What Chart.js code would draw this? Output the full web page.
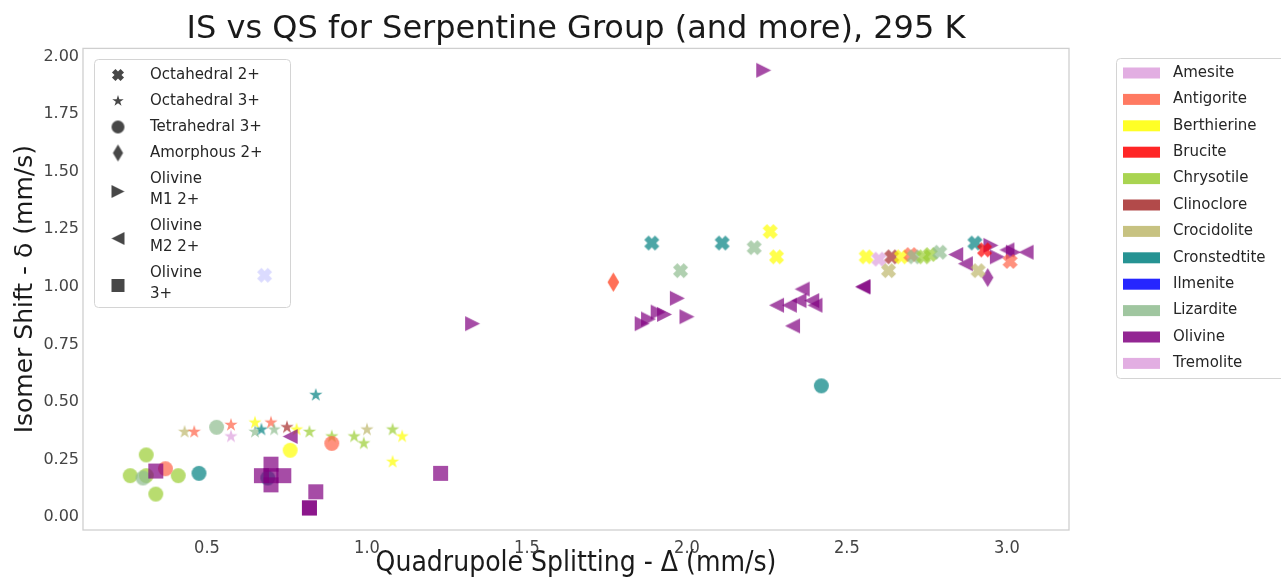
<!DOCTYPE html>
<html>
<head>
<meta charset="utf-8">
<title>IS vs QS for Serpentine Group (and more), 295 K</title>
<script src="https://cdn.jsdelivr.net/npm/chart.js@4/dist/chart.umd.min.js"></script>
<style>
  html, body { margin: 0; padding: 0; background: #ffffff; }
  canvas { display: block; }
</style>
</head>
<body>
<canvas id="chart" width="1281" height="579"></canvas>
<script>
// ---- minerals (colour key) ----
const minerals = ['Amesite', 'Antigorite', 'Berthierine', 'Brucite', 'Chrysotile', 'Clinoclore',
  'Crocidolite', 'Cronstedtite', 'Ilmenite', 'Lizardite', 'Olivine', 'Tremolite'];
const mineralColors = ['#DDA0DD', '#FF6347', '#FFFF00', '#FF0000', '#9ACD32', '#A52A2A',
  '#BDB76B', '#008080', '#0000FF', '#8FBC8F', '#800080', '#DDA0DD'];

// ---- site types (marker key) ----
const siteLabels = ['Octahedral 2+', 'Octahedral 3+', 'Tetrahedral 3+', 'Amorphous 2+',
  'Olivine\nM1 2+', 'Olivine\nM2 2+', 'Olivine\n3+'];
const siteShapes = ['xFilled', 'star', 'circle', 'thinDiamond', 'triangleRight', 'triangleLeft', 'square'];
// stacking of the site layers: 0 is painted last (on top)
const siteLayer = [0, 6, 5, 1, 2, 3, 4];

// ---- measurements: [mineral, quadrupole splitting, isomer shift] ----
const octahedral2Plus = [
  ['Ilmenite', 0.68, 1.05],
  ['Cronstedtite', 1.89, 1.19], ['Cronstedtite', 2.11, 1.19],
  ['Lizardite', 1.98, 1.07], ['Lizardite', 2.21, 1.17],
  ['Berthierine', 2.26, 1.24], ['Berthierine', 2.28, 1.13],
  ['Berthierine', 2.56, 1.13], ['Amesite', 2.60, 1.12],
  ['Crocidolite', 2.63, 1.07], ['Clinoclore', 2.64, 1.13],
  ['Berthierine', 2.67, 1.13], ['Antigorite', 2.70, 1.14],
  ['Lizardite', 2.71, 1.13], ['Chrysotile', 2.74, 1.13],
  ['Chrysotile', 2.76, 1.14], ['Lizardite', 2.79, 1.15],
  ['Cronstedtite', 2.90, 1.19], ['Crocidolite', 2.91, 1.07],
  ['Brucite', 2.93, 1.16], ['Antigorite', 3.01, 1.11]
];
const octahedral3Plus = [
  ['Crocidolite', 0.43, 0.37], ['Antigorite', 0.46, 0.37],
  ['Antigorite', 0.575, 0.40], ['Tremolite', 0.575, 0.35],
  ['Berthierine', 0.65, 0.41], ['Lizardite', 0.65, 0.37],
  ['Cronstedtite', 0.67, 0.38], ['Antigorite', 0.70, 0.41],
  ['Lizardite', 0.71, 0.38], ['Clinoclore', 0.75, 0.39],
  ['Berthierine', 0.78, 0.38], ['Chrysotile', 0.82, 0.37],
  ['Chrysotile', 0.89, 0.35], ['Cronstedtite', 0.84, 0.53],
  ['Chrysotile', 0.96, 0.35], ['Crocidolite', 1.00, 0.38],
  ['Chrysotile', 0.99, 0.32], ['Chrysotile', 1.08, 0.38],
  ['Berthierine', 1.11, 0.35], ['Berthierine', 1.08, 0.24]
];
const tetrahedral3Plus = [
  ['Chrysotile', 0.31, 0.27], ['Chrysotile', 0.26, 0.18],
  ['Chrysotile', 0.31, 0.18], ['Lizardite', 0.30, 0.17],
  ['Chrysotile', 0.41, 0.18], ['Chrysotile', 0.34, 0.10],
  ['Antigorite', 0.37, 0.21], ['Cronstedtite', 0.475, 0.19],
  ['Cronstedtite', 0.69, 0.17], ['Lizardite', 0.53, 0.39],
  ['Berthierine', 0.76, 0.29], ['Antigorite', 0.89, 0.32],
  ['Cronstedtite', 2.42, 0.57]
];
const amorphous2Plus = [
  ['Antigorite', 1.77, 1.02], ['Antigorite', 1.77, 1.02],
  ['Olivine', 2.94, 1.04]
];
const olivineM1 = [
  ['Olivine', 1.33, 0.84], ['Olivine', 1.86, 0.84], ['Olivine', 1.88, 0.86],
  ['Olivine', 1.91, 0.89], ['Olivine', 1.93, 0.88], ['Olivine', 1.97, 0.95],
  ['Olivine', 2.00, 0.87], ['Olivine', 2.24, 1.94], ['Olivine', 2.95, 1.18],
  ['Olivine', 2.97, 1.13], ['Olivine', 3.02, 1.15]
];
const olivineM2 = [
  ['Olivine', 0.76, 0.35], ['Olivine', 2.28, 0.92], ['Olivine', 2.32, 0.92],
  ['Olivine', 2.35, 0.94], ['Olivine', 2.36, 0.99], ['Olivine', 2.39, 0.94],
  ['Olivine', 2.40, 0.92], ['Olivine', 2.33, 0.83], ['Olivine', 2.55, 1.00],
  ['Olivine', 2.55, 1.00], ['Olivine', 2.84, 1.14], ['Olivine', 2.87, 1.10],
  ['Olivine', 3.00, 1.16], ['Olivine', 3.06, 1.15]
];
const olivine3Plus = [
  ['Olivine', 0.34, 0.20], ['Olivine', 0.70, 0.23], ['Olivine', 0.67, 0.18],
  ['Olivine', 0.74, 0.18], ['Olivine', 0.70, 0.14], ['Olivine', 0.70, 0.18],
  ['Olivine', 0.84, 0.11], ['Olivine', 0.82, 0.04], ['Olivine', 0.82, 0.04],
  ['Olivine', 1.23, 0.19]
];
const siteData = [octahedral2Plus, octahedral3Plus, tetrahedral3Plus, amorphous2Plus,
  olivineM1, olivineM2, olivine3Plus];

// ---- axes ----
const xTickValues = [0.5, 1.0, 1.5, 2.0, 2.5, 3.0];
const yTickValues = [0, 0.25, 0.5, 0.75, 1.0, 1.25, 1.5, 1.75, 2.0];

// ---- marker drawing ----
const FONT = '"DejaVu Sans", "Liberation Sans", sans-serif';
const NARROW = '"DejaVu Sans Condensed", "DejaVu Sans", sans-serif';
const markerSize = { xFilled: 15, star: 14, circle: 15, thinDiamond: 19, triangleRight: 15, triangleLeft: 15, square: 15 };
const legendMarkerSize = { xFilled: 12, star: 12, circle: 13, thinDiamond: 17, triangleRight: 13, triangleLeft: 13, square: 13 };

function tracePath(g, shape, r) {
  g.beginPath();
  if (shape === 'circle') {
    g.arc(0, 0, r, 0, Math.PI * 2);
  } else if (shape === 'square') {
    g.rect(-r, -r, 2 * r, 2 * r);
  } else if (shape === 'triangleRight') {
    g.moveTo(r, 0); g.lineTo(-r, -r); g.lineTo(-r, r); g.closePath();
  } else if (shape === 'triangleLeft') {
    g.moveTo(-r, 0); g.lineTo(r, -r); g.lineTo(r, r); g.closePath();
  } else if (shape === 'thinDiamond') {
    g.moveTo(0, -r); g.lineTo(0.6 * r, 0); g.lineTo(0, r); g.lineTo(-0.6 * r, 0); g.closePath();
  } else if (shape === 'star') {
    for (let k = 0; k < 10; k++) {
      const rad = k % 2 === 0 ? r : r * 0.382;
      const ang = -Math.PI / 2 + k * Math.PI / 5;
      const px = rad * Math.cos(ang), py = rad * Math.sin(ang);
      if (k === 0) g.moveTo(px, py); else g.lineTo(px, py);
    }
    g.closePath();
  } else if (shape === 'xFilled') {
    // a plus sign turned by 45 degrees
    const b = r * 1.01, a = r * 0.41;
    const pts = [[a, b], [a, a], [b, a], [b, -a], [a, -a], [a, -b], [-a, -b], [-a, -a], [-b, -a], [-b, a], [-a, a], [-a, b]];
    const c = Math.SQRT1_2;
    pts.forEach(([px, py], k) => {
      const qx = c * (px - py), qy = c * (px + py);
      if (k === 0) g.moveTo(qx, qy); else g.lineTo(qx, qy);
    });
    g.closePath();
  }
}

function hexToRgba(hex, alpha) {
  const n = parseInt(hex.slice(1), 16);
  return `rgba(${(n >> 16) & 255},${(n >> 8) & 255},${n & 255},${alpha})`;
}

const markerCache = {};
function markerImage(shape, fill, size) {
  const key = shape + '|' + fill + '|' + size;
  if (markerCache[key]) return markerCache[key];
  const w = Math.ceil(size) + 4;
  const c = document.createElement('canvas');
  c.width = w; c.height = w;
  const g = c.getContext('2d');
  g.translate(w / 2, w / 2);
  g.fillStyle = fill;
  tracePath(g, shape, size / 2);
  g.fill();
  markerCache[key] = c;
  return c;
}

function mineralFill(name) {
  return hexToRgba(mineralColors[minerals.indexOf(name)], 0.7);
}

// ---- datasets: one per site type, coloured per mineral ----
const datasets = siteData.map((rows, i) => ({
  label: siteLabels[i],
  order: siteLayer[i],
  data: rows.map(([m, x, y]) => ({ x, y, mineral: m })),
  pointStyle: rows.map(([m]) => markerImage(siteShapes[i], mineralFill(m), markerSize[siteShapes[i]])),
  pointRadius: 8,
  pointHoverRadius: 8,
  showLine: false
}));

// ---- frame + the two keys ----
const keysPlugin = {
  id: 'frameAndKeys',
  beforeDatasetsDraw(chart) {
    const { ctx, chartArea: a } = chart;
    ctx.save();
    ctx.strokeStyle = '#cfcfcf';
    ctx.lineWidth = 1.3;
    ctx.strokeRect(a.left, a.top, a.right - a.left, a.bottom - a.top);
    ctx.restore();
  },
  afterDatasetsDraw(chart) {
    const { ctx } = chart;
    ctx.save();
    // marker key
    ctx.beginPath();
    ctx.roundRect(94.5, 59.5, 196, 248, 4);
    ctx.fillStyle = 'rgba(255,255,255,0.8)';
    ctx.fill();
    ctx.strokeStyle = '#d4d4d4';
    ctx.lineWidth = 1;
    ctx.stroke();

    ctx.font = '15px ' + FONT;
    ctx.textBaseline = 'middle';
    ctx.textAlign = 'left';
    let lineY = 75;
    siteLabels.forEach((label, i) => {
      const lines = label.split('\n');
      const firstY = lineY;
      lines.forEach((ln, k) => {
        ctx.fillStyle = '#262626';
        ctx.fillText(ln, 150, lineY);
        if (k < lines.length - 1) lineY += 21;
      });
      const midY = (firstY + lineY) / 2 + (lines.length > 1 ? 2 : 0);
      const img = markerImage(siteShapes[i], 'rgba(0,0,0,0.72)', legendMarkerSize[siteShapes[i]]);
      ctx.drawImage(img, 118 - img.width / 2, midY - img.height / 2);
      lineY += 26;
    });

    // colour key
    ctx.beginPath();
    ctx.roundRect(1116.5, 58.5, 180, 320, 4);
    ctx.fillStyle = 'rgba(255,255,255,0.8)';
    ctx.fill();
    ctx.strokeStyle = '#d4d4d4';
    ctx.stroke();
    minerals.forEach((m, i) => {
      const cy = 73 + i * 26.4;
      ctx.fillStyle = hexToRgba(mineralColors[i], 0.85);
      ctx.fillRect(1123, cy - 5.5, 37, 11);
      ctx.fillStyle = '#262626';
      ctx.fillText(m, 1173, cy);
    });
    ctx.restore();
  }
};

Chart.defaults.font.family = FONT;

new Chart(document.getElementById('chart'), {
  type: 'scatter',
  data: { datasets },
  options: {
    responsive: false,
    animation: false,
    layout: { padding: { left: 0, top: 0, right: 212, bottom: 0 } },
    plugins: {
      legend: { display: false },
      tooltip: { enabled: false },
      title: {
        display: true,
        fullSize: false,
        text: 'IS vs QS for Serpentine Group (and more), 295 K',
        color: '#1a1a1a',
        font: { size: 32, weight: 'normal', family: FONT },
        padding: { top: 10, bottom: 0 }
      }
    },
    scales: {
      x: {
        type: 'linear',
        min: 0.1125,
        max: 3.194,
        afterFit(scale) { scale.height = 49; },
        afterBuildTicks(scale) { scale.ticks = xTickValues.map(v => ({ value: v })); },
        grid: { display: false, drawTicks: false },
        border: { display: false },
        ticks: {
          padding: 8,
          color: '#444444',
          font: { size: 18, family: NARROW },
          callback: v => v.toFixed(1)
        },
        title: {
          display: true,
          text: 'Quadrupole Splitting - Δ (mm/s)',
          color: '#1a1a1a',
          font: { size: 28, family: NARROW },
          padding: { top: 0, bottom: -2 }
        }
      },
      y: {
        type: 'linear',
        min: -0.056,
        max: 2.035,
        afterFit(scale) { scale.width = 83; },
        afterBuildTicks(scale) { scale.ticks = yTickValues.map(v => ({ value: v })); },
        grid: { display: false, drawTicks: false },
        border: { display: false },
        ticks: {
          padding: 4,
          color: '#444444',
          font: { size: 16 },
          callback: v => v.toFixed(2)
        },
        title: {
          display: true,
          text: 'Isomer Shift - δ (mm/s)',
          color: '#1a1a1a',
          font: { size: 25 },
          padding: { top: 10, bottom: 0 }
        }
      }
    }
  },
  plugins: [keysPlugin]
});
</script>
</body>
</html>
